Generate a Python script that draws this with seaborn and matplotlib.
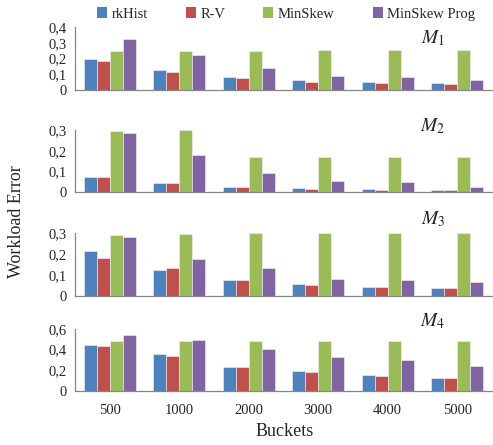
import matplotlib
matplotlib.use("Agg")
import matplotlib.pyplot as plt
from matplotlib.patches import Patch
import seaborn as sns
import pandas as pd

buckets = ["500", "1000", "2000", "3000", "4000", "5000"]
methods = ["rkHist", "R-V", "MinSkew", "MinSkew Prog"]
colors = ["#4F81BD", "#C0504D", "#9BBB59", "#8064A2"]

# Workload error per dataset (M1..M4), one list per method
m1_rkhist = [0.198, 0.128, 0.081, 0.062, 0.051, 0.045]
m1_rv = [0.185, 0.117, 0.074, 0.053, 0.045, 0.038]
m1_minskew = [0.251, 0.251, 0.251, 0.253, 0.255, 0.255]
m1_prog = [0.326, 0.223, 0.140, 0.089, 0.081, 0.062]

m2_rkhist = [0.072, 0.043, 0.024, 0.019, 0.014, 0.013]
m2_rv = [0.075, 0.043, 0.024, 0.018, 0.013, 0.011]
m2_minskew = [0.297, 0.300, 0.172, 0.172, 0.172, 0.172]
m2_prog = [0.287, 0.180, 0.095, 0.053, 0.048, 0.026]

m3_rkhist = [0.217, 0.124, 0.078, 0.059, 0.044, 0.040]
m3_rv = [0.181, 0.132, 0.075, 0.054, 0.041, 0.037]
m3_minskew = [0.294, 0.297, 0.300, 0.300, 0.300, 0.300]
m3_prog = [0.284, 0.178, 0.132, 0.079, 0.078, 0.068]

m4_rkhist = [0.443, 0.353, 0.231, 0.193, 0.154, 0.122]
m4_rv = [0.433, 0.334, 0.231, 0.182, 0.141, 0.122]
m4_minskew = [0.478, 0.478, 0.478, 0.478, 0.478, 0.478]
m4_prog = [0.539, 0.494, 0.404, 0.327, 0.298, 0.244]

panels = [
    ("$M_1$", [m1_rkhist, m1_rv, m1_minskew, m1_prog], [0, 0.1, 0.2, 0.3, 0.4], ["0", "0,1", "0,2", "0,3", "0,4"]),
    ("$M_2$", [m2_rkhist, m2_rv, m2_minskew, m2_prog], [0, 0.1, 0.2, 0.3], ["0", "0,1", "0,2", "0,3"]),
    ("$M_3$", [m3_rkhist, m3_rv, m3_minskew, m3_prog], [0, 0.1, 0.2, 0.3], ["0", "0,1", "0,2", "0,3"]),
    ("$M_4$", [m4_rkhist, m4_rv, m4_minskew, m4_prog], [0, 0.2, 0.4, 0.6], ["0", "0,2", "0,4", "0,6"]),
]

sns.set_style("white")
plt.rcParams["font.family"] = ["Liberation Serif", "DejaVu Serif"]
plt.rcParams["mathtext.fontset"] = "stix"

W, H = 493, 445
fig = plt.figure(figsize=(W / 100, H / 100), dpi=100)

axis_gray = "#868686"
left_px, right_px = 75, 492
tops_px = [27.3, 130.0, 233.3, 328.7]
bottoms_px = [90.0, 192.3, 296.0, 391.0]
label_pos_px = [(433, 38), (433, 126), (433, 219), (433, 321)]

for i, (name, series, yticks, ylabels) in enumerate(panels):
    ax = fig.add_axes([left_px / W, 1 - bottoms_px[i] / H,
                       (right_px - left_px) / W, (bottoms_px[i] - tops_px[i]) / H])
    df = pd.DataFrame({
        "Buckets": [b for _ in methods for b in buckets],
        "Method": [m for m in methods for _ in buckets],
        "Error": [v for s in series for v in s],
    })
    sns.barplot(data=df, x="Buckets", y="Error", hue="Method", order=buckets,
                hue_order=methods, palette=colors, saturation=1, width=0.75, ax=ax,
                edgecolor="#f4f4f4", linewidth=0.4, legend=False)
    ax.set_xlim(-0.5, len(buckets) - 0.5)
    ax.set_ylim(0, yticks[-1])
    ax.set_yticks(yticks)
    ax.set_yticklabels(ylabels, fontsize=10.5)
    ax.set_xlabel("")
    ax.set_ylabel("")
    # category boundaries carry the tick marks, centers carry the labels
    ax.set_xticks([k - 0.5 for k in range(len(buckets) + 1)], minor=True)
    ax.set_xticks(range(len(buckets)))
    if i == len(panels) - 1:
        ax.set_xticklabels(buckets, fontsize=10.5)
    else:
        ax.set_xticklabels([])
    ax.tick_params(axis="x", which="major", length=0, pad=9)
    ax.tick_params(axis="x", which="minor", length=5, width=0.9, color=axis_gray, direction="out")
    ax.tick_params(axis="y", length=4, width=0.9, color=axis_gray, direction="out", pad=2)
    for side in ["top", "right"]:
        ax.spines[side].set_visible(False)
    for side in ["left", "bottom"]:
        ax.spines[side].set_color(axis_gray)
        ax.spines[side].set_linewidth(0.9)
    ax.patch.set_alpha(0)
    fig.text(label_pos_px[i][0] / W, 1 - label_pos_px[i][1] / H, name,
             fontsize=14, ha="center", va="center")

handles = [Patch(facecolor=c, edgecolor="none", label=m) for m, c in zip(methods, colors)]
fig.legend(handles=handles, loc="center", bbox_to_anchor=(286 / W, 1 - 14 / H), ncol=4,
           frameon=False, fontsize=10.5, handlelength=0.7, handleheight=0.7,
           handletextpad=0.3, columnspacing=2.6)

fig.text(17 / W, 1 - 222 / H, "Workload Error", rotation=90, fontsize=13,
         ha="center", va="center")
fig.text(285 / W, 1 - 432 / H, "Buckets", fontsize=13, ha="center", va="center")

fig.savefig("out.png", dpi=100)
